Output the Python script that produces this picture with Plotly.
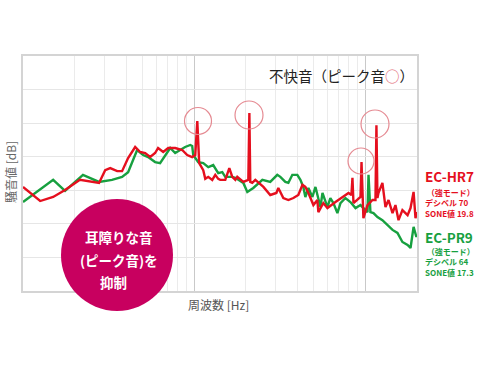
import plotly.graph_objects as go

# ---- data (frequency in Hz, level in dB) ----
hr7_freq = [100, 126, 150, 176, 215, 237, 278, 302, 323, 355, 379, 411, 452, 483, 517, 553, 591, 615, 659, 705,
            774, 851, 910, 973, 1014, 1042, 1069, 1129, 1160, 1208, 1274, 1327, 1381, 1419, 1518, 1603, 1668, 1738,
            1784, 1935, 2070, 2099, 2125, 2183, 2274, 2535, 2780, 3018, 3099, 3314, 3547, 3793, 4055, 4285, 4457,
            4645, 4966, 5236, 5310, 5675, 5998, 6683, 7328, 7962, 8280, 8395, 8511, 8980, 9354, 9484, 9727, 10280,
            10990, 11440, 11590, 11750, 11910, 12560, 13090, 13640, 14390, 14970, 15600, 16440, 17620, 18330,
            19100, 19600, 20000]
hr7_db = [31.0, 26.8, 28.0, 30.1, 33.1, 32.8, 32.2, 36.0, 36.6, 35.7, 35.7, 39.6, 42.9, 41.4, 41.1, 39.9, 41.1, 42.6,
          41.4, 42.6, 42.6, 42.0, 40.5, 39.9, 40.5, 50.6, 38.1, 36.0, 33.4, 34.0, 33.1, 34.6, 33.4, 33.1, 33.1, 36.6,
          34.0, 33.1, 34.0, 32.5, 33.1, 53.0, 32.5, 32.2, 33.1, 31.0, 28.6, 29.2, 30.7, 27.7, 27.1, 27.7, 28.6, 31.6,
          31.0, 29.2, 25.6, 27.1, 23.5, 26.2, 24.7, 26.5, 28.0, 29.2, 28.6, 33.7, 26.2, 27.1, 28.0, 38.4, 21.7, 25.6,
          27.1, 27.1, 49.4, 27.7, 29.2, 32.2, 25.0, 27.1, 23.2, 25.6, 21.1, 24.1, 22.6, 24.7, 29.5, 21.7, 23.5]

pr9_freq = [100, 150, 176, 224, 278, 331, 379, 411, 464, 503, 538, 591, 632, 677, 724, 774, 828, 885, 948, 973,
            987, 1055, 1129, 1208, 1291, 1381, 1458, 1518, 1668, 1738, 1935, 2042, 2213, 2500, 2780, 3055, 3184,
            3405, 3547, 3741, 4000, 4169, 4335, 4457, 4645, 4898, 5105, 5458, 5610, 5998, 6237, 6498, 6858, 7145,
            7638, 8166, 8750, 9354, 10000, 10280, 10420, 10690, 11140, 11750, 12560, 13450, 14390, 15380, 16440,
            17620, 18330, 19100, 19840, 20000]
pr9_db = [26.5, 33.1, 29.8, 34.6, 32.5, 33.1, 34.0, 35.4, 42.0, 40.5, 39.9, 38.4, 38.1, 40.5, 42.6, 41.1, 42.0, 42.9,
          43.5, 43.2, 40.5, 38.4, 38.1, 36.9, 37.5, 35.1, 35.4, 34.0, 34.0, 33.7, 32.2, 29.5, 30.7, 33.1, 32.5, 34.6,
          34.0, 32.5, 32.2, 34.6, 34.6, 33.1, 31.0, 28.0, 30.7, 28.0, 31.0, 25.0, 29.2, 25.0, 27.7, 26.2, 23.2, 26.2,
          27.7, 26.5, 24.7, 25.6, 24.1, 23.5, 34.6, 23.5, 23.2, 22.0, 21.1, 19.7, 18.2, 17.3, 14.6, 13.7, 12.8, 19.1,
          16.1, 16.7]

minor_grid_hz = [200, 300, 400, 500, 600, 700, 800, 900, 2000, 3000, 4000, 5000, 6000, 7000, 8000, 9000]
major_grid_hz = [1000, 10000]

RED = "#e50f1e"
GREEN = "#17a03f"
FONT = "Noto Sans CJK JP"

fig = go.Figure()
fig.add_trace(go.Scatter(x=pr9_freq, y=pr9_db, mode="lines", line=dict(color=GREEN, width=2.4), name="EC-PR9"))
fig.add_trace(go.Scatter(x=hr7_freq, y=hr7_db, mode="lines", line=dict(color=RED, width=2.4), name="EC-HR7"))

W, H = 490, 368
L, R, T, B = 23, 73, 56, 77
pw, ph = W - L - R, H - T - B


def px(x):
    return (x - L) / pw


def py(y):
    return (H - B - y) / ph


shapes = []
# peak circles
for cx, cy, r in [(198, 121, 13.5), (249, 115, 14), (375, 124, 14), (361, 161, 13)]:
    shapes.append(dict(type="circle", xref="paper", yref="paper",
                       x0=px(cx - r), x1=px(cx + r), y0=py(cy + r), y1=py(cy - r),
                       line=dict(color="#e58a92", width=1.2), layer="above"))
# big magenta badge
shapes.append(dict(type="circle", xref="paper", yref="paper",
                   x0=px(61), x1=px(173), y0=py(311), y1=py(199),
                   fillcolor="#c8005f", line=dict(color="#c8005f", width=0), layer="above"))

ann = []


def text(x, y, s, size, color, anchor="left", bold=False, angle=0, align="left"):
    ann.append(dict(xref="paper", yref="paper", x=px(x), y=py(y), text=(f"<b>{s}</b>" if bold else s),
                    showarrow=False, xanchor=anchor, yanchor="middle", textangle=angle, align=align,
                    borderpad=0, font=dict(family=FONT, size=size, color=color)))


text(268, 75, '不快音（ピーク音<span style="color:#e36a75">○</span>）', 14.5, "#222222")
text(10, 172, "騒音値 [dB]", 12, "#666666", anchor="center", angle=-90)
text(187, 304, "周波数 [Hz]", 12, "#555555")

text(119, 237, "耳障りな音", 13.5, "white", anchor="center", bold=True)
text(119, 260, "(ピーク音)を", 13.5, "white", anchor="center", bold=True)
text(113, 282, "抑制", 13.5, "white", anchor="center", bold=True)

text(424, 176, "EC-HR7", 13.5, RED, bold=True)
text(424, 203, "&nbsp;（強モード）<br>デシベル 70<br>SONE値 19.8", 8, RED, bold=True)

text(424, 236.5, "EC-PR9", 13.5, GREEN, bold=True)
text(424, 262, "&nbsp;（強モード）<br>デシベル 64<br>SONE値 17.3", 8, GREEN, bold=True)

fig.update_layout(
    width=W, height=H, margin=dict(l=L, r=R, t=T, b=B),
    paper_bgcolor="white", plot_bgcolor="white", showlegend=False,
    font=dict(family=FONT),
    shapes=shapes, annotations=ann,
    xaxis=dict(type="log", range=[2, 4.30103], tickvals=major_grid_hz, showticklabels=False, ticks="",
               showgrid=True, gridcolor="#c9c9c9", gridwidth=1.2,
               minor=dict(tickvals=minor_grid_hz, showgrid=True, gridcolor="#ebebeb", gridwidth=1, ticks=""),
               showline=True, mirror=True, linecolor="#d4d4d4", linewidth=2, zeroline=False, fixedrange=True),
    yaxis=dict(range=[0, 70], dtick=10, showticklabels=False, ticks="", showgrid=True, gridcolor="#e6e6e6",
               gridwidth=1.2, showline=True, mirror=True, linecolor="#d4d4d4", linewidth=2, zeroline=False,
               fixedrange=True),
)

fig.write_html("out.html")
